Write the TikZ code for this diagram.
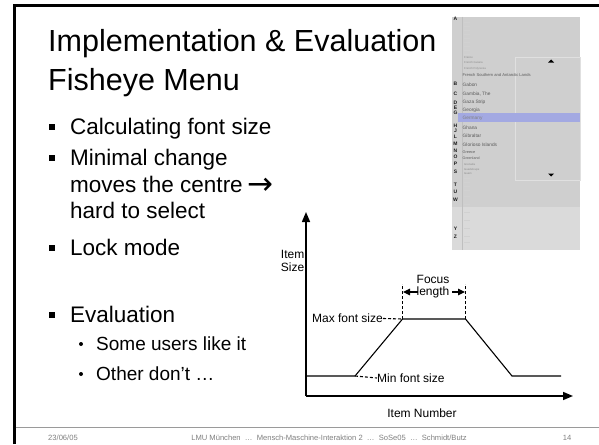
\documentclass[tikz,border=0pt]{standalone}
\usepackage{fontspec}
\setmainfont{Liberation Sans}
\newfontfamily\arrowfont{DejaVu Sans}
\usetikzlibrary{arrows.meta}
\definecolor{shotgray}{HTML}{CFCFCF}
\definecolor{shotlight}{HTML}{DADADA}
\definecolor{selblue}{HTML}{A3A9E2}
\definecolor{foot}{HTML}{808080}
\tikzset{
  txt/.style={inner sep=0pt, anchor=base west},
  title/.style={txt, font=\fontsize{30.5}{36}\selectfont},
  body/.style={txt, font=\fontsize{22.5}{26}\selectfont},
  sub/.style={txt, font=\fontsize{19}{22}\selectfont},
  footer/.style={inner sep=0pt, anchor=base, font=\fontsize{7.6}{9}\selectfont, text=foot},
  gtext/.style={inner sep=0pt, font=\fontsize{12}{13.5}\selectfont},
  menuitem/.style={inner sep=0pt, anchor=base west, text=black!65, font=\fontsize{4.8}{5}\selectfont},
  tinyitem/.style={inner sep=0pt, anchor=base west, text=black!45, font=\fontsize{2.8}{3}\selectfont},
  letter/.style={inner sep=0pt, anchor=base, text=black!90, font=\bfseries\fontsize{5}{6}\selectfont},
  sq/.style={fill=black, minimum size=6pt, inner sep=0pt},
  dot/.style={circle, fill=black, minimum size=4pt, inner sep=0pt},
  axis/.style={line width=1.5pt, -{Triangle[length=10pt,width=8pt]}},
  curve/.style={line width=1.1pt},
  guide/.style={line width=1.1pt, dash pattern=on 3pt off 2pt},
  span/.style={line width=1.1pt, -{Triangle[length=7pt,width=6.5pt]}},
}
\begin{document}
\begin{tikzpicture}[x=1pt,y=-1pt]
\useasboundingbox[fill=white] (0,0) rectangle (599,444);

% slide frame and footer rule
\draw[line width=3pt] (14,444) -- (14,5.5) -- (599,5.5);
\draw[foot!80, line width=1pt] (15.5,427.5) -- (599,427.5);

% title
\node[title] (t1) at (48,52) {Implementation \& Evaluation};
\node[title] (t2) at (48,90) {Fisheye Menu};

% bullet list
\node[sq] (b1) at (52,127) {};
\node[body] (l1) at (70,134) {Calculating font size};
\node[sq] (b2) at (52,158) {};
\node[body] (l2) at (70,165) {Minimal change};
\node[body] (l2b) at (70,192) {moves the centre\hspace{5pt}\raisebox{-2.5pt}{\arrowfont\fontsize{31}{31}\selectfont →}};
\node[body] (l2c) at (70,218) {hard to select};
\node[sq] (b3) at (52,248) {};
\node[body] (l3) at (70,255) {Lock mode};
\node[sq] (b4) at (52,315) {};
\node[body] (l4) at (70,322) {Evaluation};
\node[dot] (d1) at (81,344) {};
\node[sub] (s1) at (96,350) {Some users like it};
\node[dot] (d2) at (81,374) {};
\node[sub] (s2) at (96,380) {Other don’t …};

% footer
\node[footer] (f1) at (63,440) {23/06/05};
\node[footer] (f2) at (329,440) {LMU München \ … \ Mensch-Maschine-Interaktion 2 \ … \ SoSe05 \ … \ Schmidt/Butz};
\node[footer] (f3) at (567,440) {14};

% fisheye menu screenshot
\fill[shotgray] (452,17) rectangle (580,250);
\fill[shotlight] (452,207) rectangle (580,250);
\draw[black!25, line width=0.6pt] (462,17) -- (462,250);
\draw[black!12, line width=0.5pt] (515,57) rectangle (580,180);
\fill[black] (548,62.5) -- (554,62.5) -- (551,59.5) -- cycle;
\fill[black] (548,173.5) -- (554,173.5) -- (551,176.5) -- cycle;
\foreach \yy in {22,26,30,34,38,42,46,50,54}
  \draw[black!18, line width=0.5pt] (464,\yy) -- (470,\yy);
\foreach \yy in {178,182,186,190,196,204,212,220,228,236,242}
  \draw[black!18, line width=0.5pt] (464,\yy) -- (470,\yy);
\node[tinyitem] (m1) at (464,59) {France};
\node[tinyitem] (m2) at (464,63.5) {French Guiana};
\node[tinyitem] (m3) at (464,69) {French Polynesia};
\node[menuitem, font=\fontsize{4.1}{5}\selectfont] (m4) at (462.5,77) {French Southern and Antarctic Lands};
\node[menuitem] (m5) at (462.5,86) {Gabon};
\node[menuitem] (m6) at (462.5,95) {Gambia, The};
\node[menuitem] (m7) at (462.5,103) {Gaza Strip};
\node[menuitem] (m8) at (462.5,111) {Georgia};
\fill[selblue] (458,113) rectangle (580,122);
\node[menuitem, text=black!50] (m9) at (462.5,119.8) {Germany};
\node[menuitem] (m10) at (462.5,129) {Ghana};
\node[menuitem] (m11) at (462.5,137) {Gibraltar};
\node[menuitem] (m12) at (462.5,146) {Glorioso Islands};
\node[menuitem, font=\fontsize{3.8}{4}\selectfont] (m13) at (462.5,153) {Greece};
\node[menuitem, font=\fontsize{3.6}{4}\selectfont] (m14) at (462.5,159) {Greenland};
\node[tinyitem] (m15) at (464,165) {Grenada};
\node[tinyitem] (m16) at (464,170) {Guadeloupe};
\node[tinyitem] (m17) at (464,174) {Guam};
\foreach \ch/\yy in {A/21,B/85,C/95,D/104,E/109,G/114,H/127,J/132,L/138,M/145,N/152,O/158,P/165,S/173,T/186,U/193,W/201,Y/230,Z/238}
  \node[letter] at (455.5,\yy) {\ch};

% font size graph
\coordinate (origin) at (306,396);
\coordinate (ytip) at (306,212);
\coordinate (xtip) at (573,396);
\draw[axis] (origin) -- (ytip);
\draw[axis] (origin) -- (xtip);

\coordinate (p0) at (306,376);
\coordinate (p1) at (355,376);
\coordinate (p2) at (402.5,319);
\coordinate (p3) at (465.5,319);
\coordinate (p4) at (512,376);
\coordinate (p5) at (561,376);
\draw[curve] (p0) -- (p1) -- (p2) -- (p3) -- (p4) -- (p5);

\coordinate (q2) at (402.5,284);
\coordinate (q3) at (465.5,284);
\draw[guide] (p2) -- (q2);
\draw[guide] (p3) -- (q3);

\node[gtext, anchor=east] (maxl) at (383,318.5) {Max font size};
\draw[guide] (maxl.east) -- (p2);
\node[gtext, anchor=west] (minl) at (377,378) {Min font size};
\draw[guide] (p1) -- (minl.west);

\node[gtext] (focus) at (433,279) {Focus};
\node[gtext] (flen) at (433,292.5) {length};
\coordinate (la) at (418,292);
\coordinate (lb) at (403,292);
\coordinate (ra) at (452,292);
\coordinate (rb) at (465,292);
\draw[span] (la) -- (lb);
\draw[span] (ra) -- (rb);

\node[gtext, align=left, anchor=east] (ysize) at (304.5,261) {Item\\Size};
\node[gtext] (xnum) at (422,413) {Item Number};
\end{tikzpicture}
\end{document}
